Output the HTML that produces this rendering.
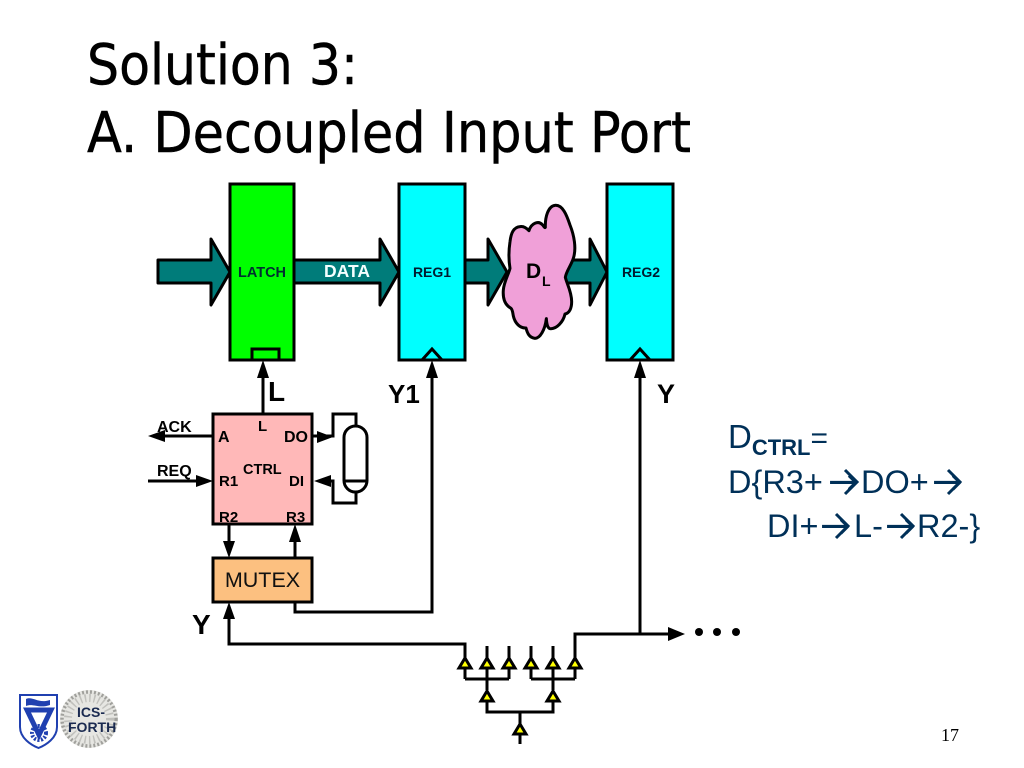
<!DOCTYPE html>
<html><head><meta charset="utf-8"><style>
html,body{margin:0;padding:0;background:#fff;width:1024px;height:768px;overflow:hidden}
svg{display:block}
.b{font-family:"Liberation Sans",sans-serif;font-weight:bold;fill:#000}
.n{font-family:"Liberation Sans",sans-serif;fill:#003058}
.ar{font-family:"DejaVu Sans",sans-serif;font-size:37px}
</style></head><body>
<svg width="1024" height="768" viewBox="0 0 1024 768" xmlns="http://www.w3.org/2000/svg">
<rect width="1024" height="768" fill="#fff"/>
<g font-family="'DejaVu Sans',sans-serif" font-size="56" fill="#000" stroke="#000" stroke-width=".5">
<text x="87" y="84" textLength="271" lengthAdjust="spacingAndGlyphs">Solution 3:</text>
<text x="87" y="152" textLength="604" lengthAdjust="spacingAndGlyphs">A. Decoupled Input Port</text>
</g>

<!-- data arrows -->
<g fill="#007c7a" stroke="#000" stroke-width="3" stroke-linejoin="round">
<path d="M158 260H211V239L230 272L211 305V283H158Z"/>
<path d="M294 260H380V239L399 272L380 305V283H294"/>
<path d="M465 260H488V239L507 272L488 305V283H465"/>
<path d="M560 260H590V239L607 272L590 305V283H560"/>
</g>

<!-- blocks -->
<g stroke="#000" stroke-width="3">
<rect x="230" y="184" width="64" height="176" fill="#00ff00"/>
<rect x="252" y="349" width="27" height="11" fill="#00ff00"/>
<rect x="399" y="184" width="66" height="176" fill="#00ffff"/>
<rect x="607" y="184" width="66" height="176" fill="#00ffff"/>
<path d="M422 360L432 349L442 360" fill="none"/>
<path d="M630 360L640 349L650 360" fill="none"/>
</g>

<!-- cloud -->
<g transform="translate(430 170) scale(.33333)">
<path d="M240 215C243 190 250 172 270 170C282 168 290 175 297 182C303 160 325 150 338 165C342 170 345 175 346 172C345 140 355 108 375 106C398 104 410 135 420 165C432 195 440 235 430 265C424 285 408 305 406 322C410 340 425 365 425 395C425 415 418 430 405 432C400 455 380 478 360 476C352 474 350 460 349 446C345 480 330 505 315 505C298 503 292 490 288 474C270 475 255 460 250 438C248 428 248 420 243 415C225 405 218 385 220 360C222 335 235 315 240 295C235 265 237 235 240 215Z" fill="#f0a0d8" stroke="#000" stroke-width="9" stroke-linejoin="round"/>
</g>

<!-- labels upper -->
<text class="b" x="262" y="277" font-size="14.5" text-anchor="middle" style="fill:#003030">LATCH</text>
<text class="b" x="347" y="277" font-size="17.5" text-anchor="middle" style="fill:#f4ffff">DATA</text>
<text class="b" x="432" y="277" font-size="14" text-anchor="middle" style="fill:#001c30">REG1</text>
<text class="b" x="641" y="277" font-size="14" text-anchor="middle" style="fill:#001c30">REG2</text>
<text class="b" x="526" y="278" font-size="21">D</text>
<text class="b" x="542" y="286" font-size="14">L</text>

<!-- ctrl -->
<rect x="213" y="414" width="99" height="110" fill="#ffb8b8" stroke="#000" stroke-width="3"/>
<rect x="213" y="558" width="99" height="44" fill="#fcc080" stroke="#000" stroke-width="3"/>
<text class="n" x="262.500" y="587" font-size="21.500" text-anchor="middle" style="fill:#101010">MUTEX</text>
<g>
<text class="b" x="218" y="442" font-size="16">A</text>
<text class="b" x="258" y="431" font-size="15">L</text>
<text class="b" x="284" y="442" font-size="16">DO</text>
<text class="b" x="219" y="486" font-size="15">R1</text>
<text class="b" x="243" y="474" font-size="14.500">CTRL</text>
<text class="b" x="289" y="486" font-size="15">DI</text>
<text class="b" x="219" y="522" font-size="15">R2</text>
<text class="b" x="286" y="522" font-size="15">R3</text>
<text class="b" x="157" y="432" font-size="16">ACK</text>
<text class="b" x="157" y="476" font-size="16">REQ</text>
</g>
<text class="b" x="268" y="401" font-size="28">L</text>
<text class="b" x="388" y="403" font-size="26">Y1</text>
<text class="b" x="657" y="403" font-size="27">Y</text>
<text class="b" x="192" y="634" font-size="28">Y</text>

<!-- wires -->
<g fill="none" stroke="#000" stroke-width="3">
<path d="M263 414V372"/>
<path d="M432 372V612H295V602"/>
<path d="M640 372V634"/>
<path d="M213 436H160"/>
<path d="M148 481H200"/>
<path d="M229 524V545"/>
<path d="M295 558V538"/>
<path d="M229 615V644H465V679"/>
<path d="M312 436H333V414H356V426"/>
<path d="M325 481H333V503H356V492"/>
<path d="M575 679V634H672"/>
<path d="M487 646V690M509 646V679M531 646V679M553 646V690M465 679H509M531 679H575"/>
<path d="M487 700V712H553V700M520 712V744"/>
<rect x="344" y="426" width="23" height="66" rx="11.500" ry="11.500"/>
<path d="M344 481H367"/>
</g>

<!-- arrowheads -->
<g fill="#000">
<path d="M263 360L257 378H269Z"/>
<path d="M432 360L426 378H438Z"/>
<path d="M640 360L634 378H646Z"/>
<path d="M148 436L165 430V442Z"/>
<path d="M213 481L196 475V487Z"/>
<path d="M229 558L223 541H235Z"/>
<path d="M295 524L289 542H301Z"/>
<path d="M229 602L223 619H235Z"/>
<path d="M333 437L317 431V443Z"/>
<path d="M314 481L331 475V487Z"/>
<path d="M685 634L668 627V641Z"/>
<circle cx="699" cy="632" r="4"/>
<circle cx="717" cy="632" r="4"/>
<circle cx="736" cy="632" r="4"/>
</g>

<!-- small buffers -->
<g fill="#ffff00" stroke="#000" stroke-width="3" stroke-linejoin="miter">
<path d="M465 658L459 668H471Z"/><path d="M487 658L481 668H493Z"/><path d="M509 658L503 668H515Z"/>
<path d="M531 658L525 668H537Z"/><path d="M553 658L547 668H559Z"/><path d="M575 658L569 668H581Z"/>
<path d="M487 691L481 701H493Z"/><path d="M553 691L547 701H559Z"/>
<path d="M520 724L514 734H526Z"/>
</g>

<!-- right text -->
<text class="n" x="728" y="448" font-size="33">D<tspan font-weight="bold" font-size="22" dy="7">CTRL</tspan><tspan dy="-7" font-size="30">=</tspan></text>
<text class="n" x="728" y="493" font-size="32.500">D{R3+</text>
<text class="n ar" x="828" y="494">→</text>
<text class="n" x="861" y="493" font-size="32.500">DO+</text>
<text class="n ar" x="932" y="494">→</text>
<text class="n" x="767" y="537" font-size="32.500">DI+</text>
<text class="n ar" x="820" y="538">→</text>
<text class="n" x="854" y="537" font-size="32.500">L-</text>
<text class="n ar" x="885" y="538">→</text>
<text class="n" x="917" y="537" font-size="32.500">R2-}</text>
<g fill="none" stroke="#003058" stroke-width="3">
<path d="M845 470L857 482L845 494"/>
<path d="M948 470L960 482L948 494"/>
<path d="M836 514L848 526L836 538"/>
<path d="M901 514L913 526L901 538"/>
</g>

<text x="941" y="741" font-family="'Liberation Serif',serif" font-size="18" fill="#000">17</text>

<!-- logos -->
<path d="M20 695H57V727C57 738 46 745 38.500 748C31 745 20 738 20 727Z" fill="#fff" stroke="#2040b0" stroke-width="2"/>
<path d="M26 699C33 696 38 704 50 700V705C39 709 33 703 26 706Z" fill="#2040b0"/>
<path d="M27 710H51L39 735Z" fill="none" stroke="#2040b0" stroke-width="5"/>
<circle cx="39" cy="733" r="7" fill="none" stroke="#2040b0" stroke-width="4" stroke-dasharray="2 1.500"/>
<circle cx="89" cy="719" r="29" fill="#e6e6e2"/>
<circle cx="89" cy="719" r="27" fill="none" stroke="#a0a09c" stroke-width="3.500" stroke-dasharray="2 2"/>
<circle cx="89" cy="719" r="21" fill="none" stroke="#c0c0bc" stroke-width="8" stroke-dasharray="1.500 3"/>
<g font-family="'Liberation Sans',sans-serif" font-weight="bold" fill="#1a2a50" font-size="14">
<text x="77" y="717">ICS-</text>
<text x="68" y="732">FORTH</text>
</g>
</svg>
</body></html>
